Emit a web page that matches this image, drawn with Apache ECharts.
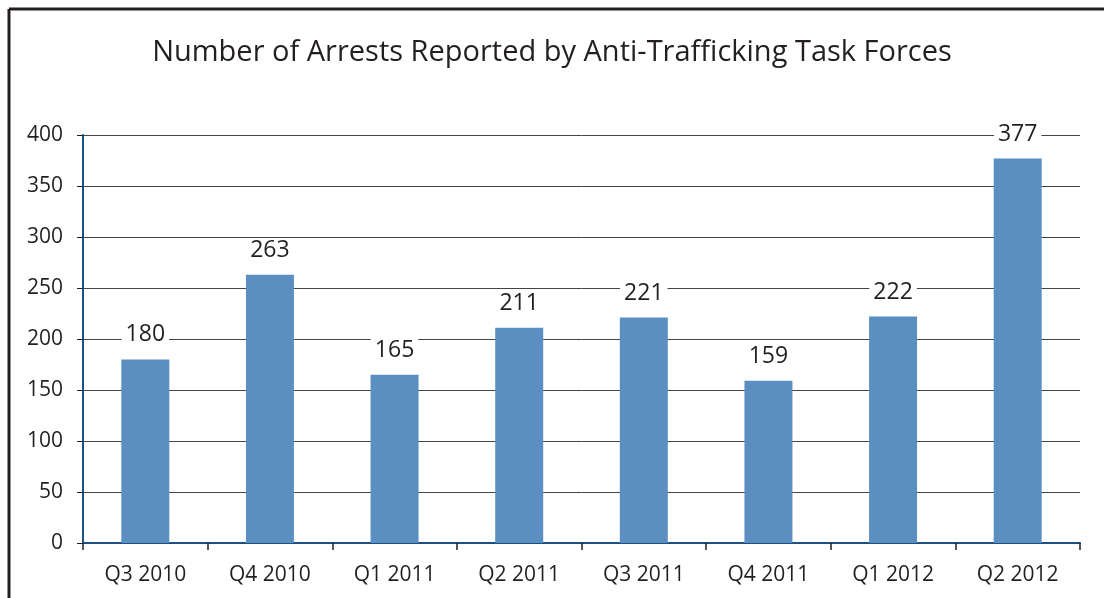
<!DOCTYPE html>
<html><head><meta charset="utf-8">
<script src="https://cdn.jsdelivr.net/npm/echarts@6/dist/echarts.min.js"></script>
<style>html,body{margin:0;padding:0;background:#fff}#c{width:1104px;height:598px}</style>
</head><body><div id="c"></div>
<script>
var categories = ["Q3 2010","Q4 2010","Q1 2011","Q2 2011","Q3 2011","Q4 2011","Q1 2012","Q2 2012"];
var arrests = [180,263,165,211,221,159,222,377];
var titleText = "Number of Arrests Reported by Anti-Trafficking Task Forces";
var chart = echarts.init(document.getElementById('c'));
var font = "'Open Sans', 'Noto Sans', sans-serif";
chart.setOption({
  animation:false,
  backgroundColor:'#fff',
  title:{text:titleText,left:'center',top:33,textStyle:{fontFamily:font,fontSize:29,fontWeight:'normal',color:'#231f20'}},
  grid:{left:83,right:24,top:135,bottom:55},
  xAxis:{type:'category',data:categories,
    axisLine:{lineStyle:{color:'#1c4f82',width:2}},
    axisTick:{show:true,length:7,lineStyle:{color:'#231f20',width:1.5}},
    axisLabel:{fontFamily:font,fontSize:21,color:'#231f20',margin:22}},
  yAxis:{type:'value',min:0,max:400,interval:50,
    axisLine:{show:true,lineStyle:{color:'#1c4f82',width:2}},
    axisTick:{show:true,length:6,lineStyle:{color:'#231f20'}},
    splitLine:{lineStyle:{color:'#444',width:1}},
    axisLabel:{fontFamily:font,fontSize:21,color:'#231f20',margin:20}},
  series:[{type:'bar',data:arrests,barWidth:48,
    itemStyle:{color:'#5b8fc2'},
    label:{show:true,position:'top',distance:13,fontFamily:font,fontSize:23,color:'#231f20',backgroundColor:'#fff',padding:[0,4]}}],
  graphic:[
    {type:'line',shape:{x1:9,y1:9,x2:1104,y2:9},style:{stroke:'#231f20',lineWidth:3},z:100},
    {type:'line',shape:{x1:9,y1:9,x2:9,y2:598},style:{stroke:'#231f20',lineWidth:3},z:100}
  ]
});
</script></body></html>
